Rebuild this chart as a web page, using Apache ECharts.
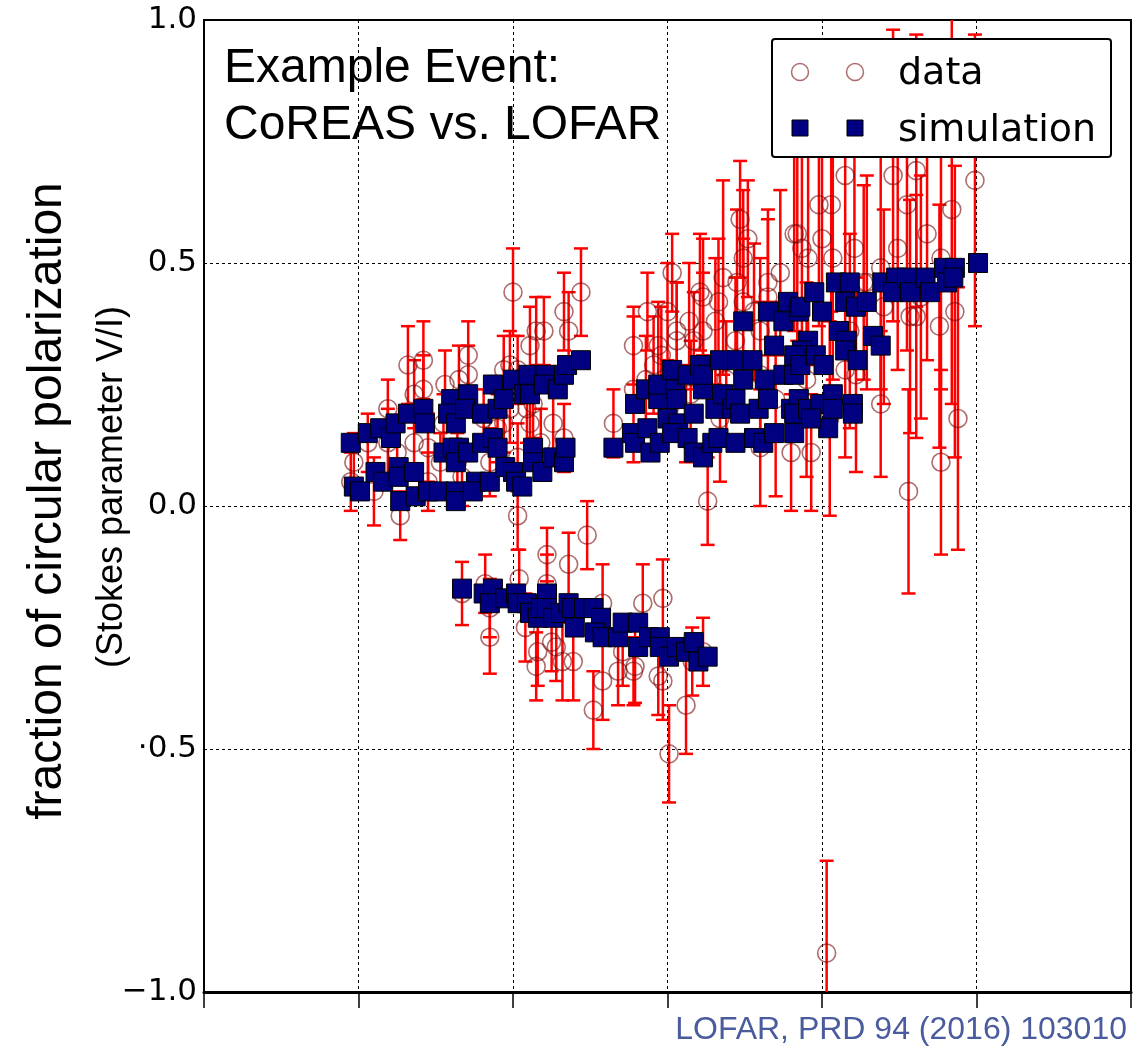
<!DOCTYPE html>
<html><head><meta charset="utf-8">
<script src="https://cdn.jsdelivr.net/npm/echarts@6/dist/echarts.min.js"></script>
<style>html,body{margin:0;padding:0;background:#fff}#c{width:1143px;height:1046px}</style>
</head><body><div id="c"></div>
<script>
// ---- tick labels ----
const yTickValues = [-1, -0.5, 0, 0.5, 1];
const yTickLabels = ['−1.0', '·0.5', '0.0', '0.5', '1.0'];

// ---- simulation (CoREAS) ----
const simX = [
  95,106,114,121,124,132,142,143,97,101,111,116,126,126,127,136,137,145,152,155,161,165,163,160,171,158,163,169,163,163,176,174,171,180,180,187,190,190,185,187,194,195,200,200,202,206,207,210,211,213,213,219,221,220,229,226,233,234,233,235,244,
  167,181,187,185,195,202,203,209,211,216,218,222,222,226,231,236,238,240,246,252,257,253,258,268,271,281,281,288,295,295,301,306,312,317,320,326,
  265,277,279,289,287,295,279,286,294,294,303,305,306,300,307,303,313,317,323,317,313,321,323,323,329,333,331,334,336,342,344,347,345,355,349,344,349,356,362,369,359,363,365,365,369,375,378,375,382,380,382,385,386,395,400,391,387,382,386,396,401,411,416,415,423,409,418,415,422,429,433,438,385,382,391,399,407,407,404,393,420,420,439,448,446,455,457,467,470,479,481,486,485,501
];
const simY = [
  0.13,0.15,0.16,0.14,0.17,0.19,0.20,0.17,0.04,0.03,0.07,0.05,0.08,0.06,0.01,0.07,0.02,0.03,0.03,0.11,0.12,0.12,0.09,0.22,0.23,0.19,0.17,0.20,0.03,0.01,0.05,0.03,0.11,0.13,0.19,0.14,0.20,0.12,0.05,0.25,0.22,0.08,0.26,0.07,0.05,0.04,0.23,0.27,0.23,0.12,0.09,0.07,0.27,0.25,0.24,0.10,0.09,0.12,0.27,0.29,0.30,
  -0.17,-0.18,-0.17,-0.20,-0.19,-0.18,-0.20,-0.20,-0.22,-0.23,-0.21,-0.18,-0.21,-0.23,-0.22,-0.20,-0.21,-0.25,-0.21,-0.21,-0.23,-0.26,-0.27,-0.27,-0.24,-0.24,-0.29,-0.27,-0.27,-0.29,-0.31,-0.29,-0.30,-0.28,-0.32,-0.31,
  0.12,0.15,0.13,0.11,0.16,0.13,0.21,0.24,0.22,0.25,0.28,0.24,0.22,0.18,0.17,0.15,0.14,0.11,0.10,0.19,0.27,0.29,0.24,0.27,0.13,0.14,0.20,0.30,0.23,0.20,0.22,0.19,0.30,0.30,0.26,0.13,0.38,0.14,0.13,0.15,0.20,0.26,0.22,0.40,0.33,0.38,0.42,0.27,0.27,0.20,0.15,0.40,0.41,0.44,0.40,0.34,0.32,0.31,0.29,0.31,0.29,0.36,0.34,0.32,0.30,0.46,0.46,0.42,0.41,0.42,0.35,0.33,0.22,0.19,0.20,0.21,0.23,0.20,0.16,0.18,0.21,0.19,0.46,0.47,0.44,0.47,0.44,0.47,0.44,0.49,0.46,0.49,0.47,0.50
];

// ---- measured data (LOFAR) ----
const dataX = [
  200,244,233,236,220,215,211,198,171,142,132,142,136,119,156,165,171,194,203,209,213,211,226,233,218,198,194,190,181,155,145,136,125,119,106,97,95,110,127,203,153,164,185,203,167,145,
  167,182,185,185,204,208,216,215,222,222,225,228,232,236,239,248,252,258,258,268,271,278,279,284,294,297,297,301,312,316,323,
  265,278,287,278,286,294,296,300,303,306,306,314,317,321,323,323,331,333,336,326,345,347,349,352,349,344,356,365,373,382,380,365,360,
  415,398,406,387,391,421,427,440,446,455,461,449,468,484,477,476,457,461,486,438,456,477,488,499,415,422,464,429,438,393,
  403,384,400,407,
  291,315,338,360,312,334,370,390,405,418,360
];
const dataY = [
  0.44,0.44,0.40,0.36,0.36,0.36,0.33,0.29,0.31,0.30,0.29,0.24,0.23,0.20,0.25,0.26,0.27,0.28,0.28,0.20,0.21,0.17,0.17,0.14,0.13,0.20,0.17,0.16,0.18,0.17,0.12,0.13,0.11,0.13,0.13,0.09,0.05,0.03,-0.02,-0.02,0.09,0.09,0.09,0.10,0.06,0.05,
  -0.18,-0.16,-0.21,-0.27,-0.15,-0.25,-0.30,-0.33,-0.10,-0.16,-0.28,-0.29,-0.32,-0.12,-0.32,-0.06,-0.42,-0.20,-0.36,-0.34,-0.30,-0.34,-0.33,-0.20,-0.35,-0.19,-0.36,-0.51,-0.41,-0.32,-0.30,
  0.17,0.33,0.40,0.24,0.26,0.33,0.31,0.40,0.48,0.36,0.34,0.38,0.34,0.44,0.43,0.36,0.38,0.42,0.47,0.01,0.46,0.59,0.51,0.55,0.42,0.34,0.40,0.46,0.48,0.56,0.11,0.43,0.36,
  0.68,0.62,0.62,0.53,0.51,0.53,0.46,0.41,0.68,0.62,0.69,0.53,0.56,0.61,0.51,0.37,0.39,0.39,0.40,0.21,0.03,0.09,0.18,0.67,0.28,0.27,0.43,0.46,0.49,0.11,
  -0.92,0.56,0.55,0.51,
  0.29,0.23,0.26,0.27,0.19,0.18,0.22,0.26,0.18,0.36,0.12
];
const dataErr = [
  0.09,0.09,0.08,0.08,0.07,0.07,0.08,0.07,0.07,0.08,0.08,0.07,0.07,0.06,0.07,0.07,0.06,0.07,0.07,0.07,0.07,0.07,0.07,0.07,0.07,0.07,0.06,0.07,0.06,0.06,0.07,0.06,0.06,0.07,0.06,0.06,0.06,0.07,0.05,0.07,0.06,0.06,0.07,0.07,0.06,0.06,
  0.065,0.06,0.06,0.075,0.06,0.07,0.07,0.07,0.055,0.06,0.06,0.07,0.08,0.065,0.08,0.07,0.08,0.08,0.08,0.07,0.07,0.07,0.075,0.08,0.08,0.08,0.08,0.10,0.10,0.07,0.07,
  0.07,0.08,0.08,0.15,0.09,0.09,0.10,0.10,0.08,0.10,0.12,0.12,0.10,0.12,0.12,0.12,0.13,0.13,0.20,0.09,0.15,0.12,0.14,0.12,0.13,0.13,0.14,0.15,0.17,0.20,0.12,0.16,0.15,
  0.25,0.25,0.22,0.20,0.22,0.23,0.20,0.20,0.30,0.30,0.28,0.25,0.26,0.40,0.27,0.25,0.24,0.25,0.30,0.15,0.21,0.19,0.27,0.30,0.18,0.20,0.25,0.22,0.25,0.12,
  0.19,0.22,0.25,0.25,
  0.10,0.11,0.12,0.15,0.10,0.13,0.20,0.20,0.20,0.20,0.12
];

const chart = echarts.init(document.getElementById('c'), null, {renderer: 'canvas'});
const Y_MIN = -1, Y_MAX = 1;
const circleStroke = 'rgba(120,10,10,0.6)';

chart.setOption({
  animation: false,
  backgroundColor: '#fff',
  grid: {left: 204, right: 12, top: 20, bottom: 54, show: true, borderColor: '#000', borderWidth: 2, containLabel: false},
  xAxis: {
    type: 'value', min: 0, max: 600, interval: 100,
    axisLine: {show: true, onZero: false, lineStyle: {color: '#000', width: 3}},
    axisTick: {show: true, inside: false, length: 16, lineStyle: {color: '#000', width: 1.5}},
    axisLabel: {show: false},
    splitLine: {show: true, lineStyle: {color: '#000', type: [3, 3], width: 1}}
  },
  yAxis: {
    type: 'value', min: Y_MIN, max: Y_MAX, interval: 0.5,
    axisLine: {show: false},
    axisTick: {show: false},
    axisLabel: {
      show: true, margin: 7, color: '#000', fontSize: 31, fontFamily: 'DejaVu Sans',
      formatter: function (v) {
        const k = yTickValues.indexOf(Math.round(v * 2) / 2);
        return k >= 0 ? yTickLabels[k] : '';
      }
    },
    splitLine: {show: true, lineStyle: {color: '#000', type: [3, 3], width: 1}}
  },
  series: [
    {
      type: 'custom', z: 2,
      data: dataX.map((x, i) => [x, dataY[i], dataErr[i]]),
      encode: {x: 0, y: 1},
      renderItem: function (params, api) {
        const x = api.value(0), y = api.value(1), e = api.value(2);
        const lo = Math.max(y - e, Y_MIN), hi = Math.min(y + e, Y_MAX);
        const pLo = api.coord([x, lo]), pHi = api.coord([x, hi]);
        const w = 7, st = {stroke: '#ff0000', lineWidth: 2.5};
        const ch = [{type: 'line', shape: {x1: pLo[0], y1: pLo[1], x2: pHi[0], y2: pHi[1]}, style: st}];
        if (y - e >= Y_MIN) ch.push({type: 'line', shape: {x1: pLo[0] - w, y1: pLo[1], x2: pLo[0] + w, y2: pLo[1]}, style: st});
        if (y + e <= Y_MAX) ch.push({type: 'line', shape: {x1: pHi[0] - w, y1: pHi[1], x2: pHi[0] + w, y2: pHi[1]}, style: st});
        return {type: 'group', children: ch};
      }
    },
    {
      type: 'scatter', z: 3, name: 'data',
      data: dataX.map((x, i) => [x, dataY[i]]),
      symbol: 'circle', symbolSize: 18,
      itemStyle: {color: 'rgba(0,0,0,0)', borderColor: circleStroke, borderWidth: 1.6, opacity: 1}
    },
    {
      type: 'scatter', z: 4, name: 'simulation',
      data: simX.map((x, i) => [x, simY[i]]),
      symbol: 'rect', symbolSize: 19,
      itemStyle: {color: '#000080', borderColor: '#000', borderWidth: 1, opacity: 1}
    }
  ],
  graphic: [
    {type: 'text', left: 224, top: 40, z: 50,
      style: {text: 'Example Event:\nCoREAS vs. LOFAR', font: '48px "Liberation Sans", Arial, sans-serif', fill: '#000', lineHeight: 57}},
    {type: 'text', x: 48, y: 501, rotation: Math.PI / 2, z: 50,
      style: {text: 'fraction of circular polarization', font: '48px "Liberation Sans", Arial, sans-serif', fill: '#000', align: 'center', verticalAlign: 'middle'}},
    {type: 'text', x: 112, y: 487, rotation: Math.PI / 2, z: 50,
      style: {text: '(Stokes parameter V/I)', font: '36px "Liberation Sans", Arial, sans-serif', fill: '#000', align: 'center', verticalAlign: 'middle'}},
    {type: 'text', x: 1127, y: 1030, z: 50,
      style: {text: 'LOFAR, PRD 94 (2016) 103010', font: '32px "Liberation Sans", Arial, sans-serif', fill: '#4a5c9e', align: 'right', verticalAlign: 'middle'}},
    {type: 'group', z: 100, children: [
      {type: 'rect', shape: {x: 772, y: 39, width: 339, height: 118, r: 3}, style: {fill: '#fff', stroke: '#000', lineWidth: 2}, z: 100},
      {type: 'circle', shape: {cx: 800, cy: 72, r: 8.5}, style: {fill: 'none', stroke: circleStroke, lineWidth: 1.5}, z: 101},
      {type: 'circle', shape: {cx: 855, cy: 72, r: 8.5}, style: {fill: 'none', stroke: circleStroke, lineWidth: 1.5}, z: 101},
      {type: 'rect', shape: {x: 792, y: 120, width: 16, height: 16}, style: {fill: '#000080', stroke: '#000', lineWidth: 1}, z: 101},
      {type: 'rect', shape: {x: 847, y: 120, width: 16, height: 16}, style: {fill: '#000080', stroke: '#000', lineWidth: 1}, z: 101},
      {type: 'text', x: 898, y: 74, z: 101, style: {text: 'data', font: '38px "DejaVu Sans", sans-serif', fill: '#000', verticalAlign: 'middle'}},
      {type: 'text', x: 898, y: 131, z: 101, style: {text: 'simulation', font: '38px "DejaVu Sans", sans-serif', fill: '#000', verticalAlign: 'middle'}}
    ]}
  ]
});
</script>
</body></html>
